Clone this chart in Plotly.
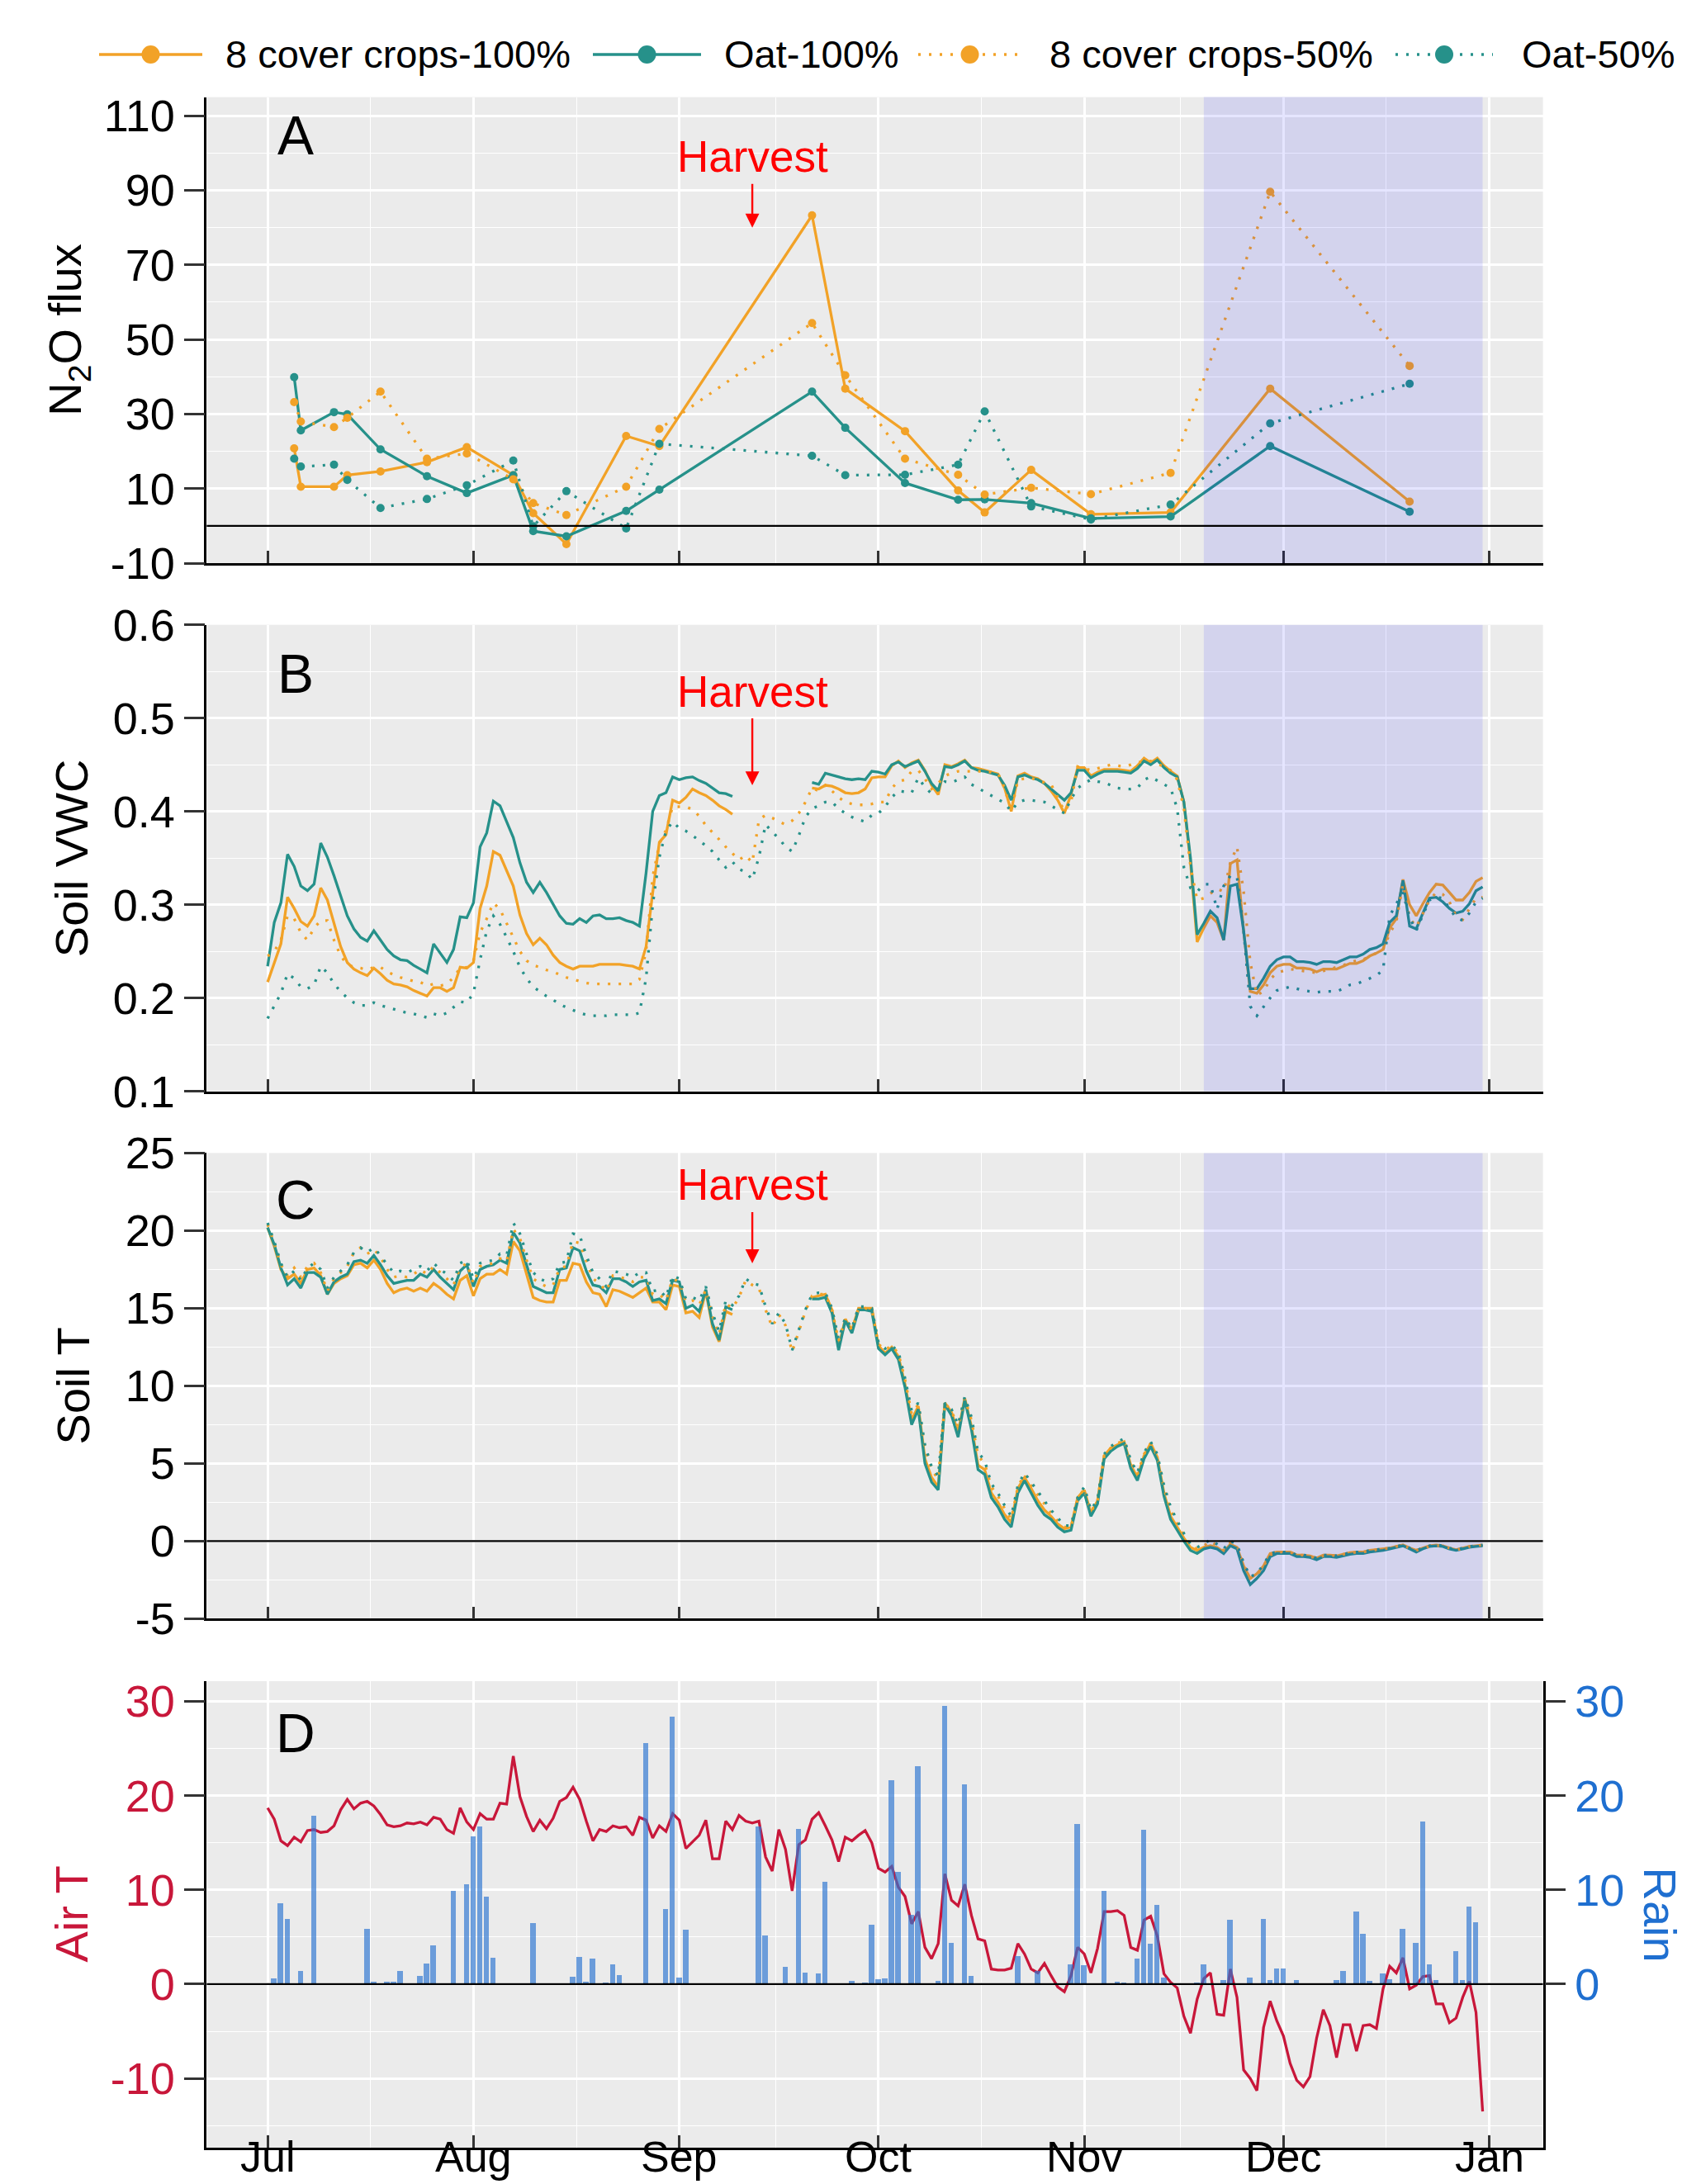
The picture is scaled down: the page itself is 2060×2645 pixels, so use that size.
import pandas as pd
import plotly.graph_objects as go

# ---------------- data ----------------
season_start = "2019-07-01"
season_end = "2019-12-31"
days = pd.date_range(season_start, season_end, freq="D")

# Panel A: N2O flux sampling dates and values
flux_dates = ["2019-07-05", "2019-07-06", "2019-07-11", "2019-07-13", "2019-07-18", "2019-07-25",
              "2019-07-31", "2019-08-07", "2019-08-10", "2019-08-15", "2019-08-24", "2019-08-29",
              "2019-09-21", "2019-09-26", "2019-10-05", "2019-10-13", "2019-10-17", "2019-10-24",
              "2019-11-02", "2019-11-14", "2019-11-29", "2019-12-20"]
flux_cc100 = [20.8, 10.5, 10.5, 13.6, 14.6, 17.1, 21.1, 13.6, 3.4, -4.9, 24.1, 21.4,
              83.3, 36.8, 25.4, 9.5, 3.6, 15.0, 3.1, 3.6, 36.8, 6.5]
flux_oat100 = [39.9, 25.6, 30.5, 29.9, 20.5, 13.3, 8.8, 13.6, -1.4, -2.8, 4.0, 9.7,
               36.0, 26.3, 11.5, 7.0, 7.1, 6.1, 2.0, 2.5, 21.4, 3.8]
flux_cc50 = [33.2, 28.0, 26.5, 29.0, 36.0, 18.0, 19.4, 12.5, 6.1, 2.9, 10.5, 26.0,
             54.4, 40.4, 18.0, 13.7, 8.4, 10.2, 8.5, 14.2, 89.6, 42.9]
flux_oat50 = [18.0, 15.9, 16.4, 12.3, 4.8, 7.2, 10.9, 17.5, -0.1, 9.3, -0.7, 22.0,
              18.8, 13.6, 13.7, 16.4, 30.7, 5.2, 1.7, 5.7, 27.5, 38.1]

N = None
# Panel B: soil volumetric water content (daily, Jul 1 - Dec 31)
vwc_cc100 = [
    0.217, 0.238, 0.258, 0.308, 0.296, 0.282, 0.277, 0.288, 0.318, 0.305,
    0.279, 0.255, 0.238, 0.231, 0.227, 0.224, 0.232, 0.226, 0.219, 0.215,
    0.214, 0.212, 0.208, 0.205, 0.202, 0.211, 0.211, 0.207, 0.211, 0.233,
    0.232, 0.238, 0.296, 0.320, 0.357, 0.353, 0.337, 0.320, 0.289, 0.269,
    0.257, 0.264, 0.257, 0.246, 0.238, 0.234, 0.231, 0.234, 0.234, 0.234,
    0.236, 0.236, 0.236, 0.236, 0.235, 0.234, 0.231, 0.255, 0.313, 0.367,
    0.375, 0.412, 0.409, 0.415, 0.424, 0.420, 0.417, 0.412, 0.406, 0.402,
    0.397, N, N, N, N, N, N, N, N, N,
    N, N, 0.425, 0.424, 0.428, 0.427, 0.424, 0.420, 0.419, 0.420,
    0.424, 0.436, 0.437, 0.437, 0.449, 0.454, 0.447, 0.452, 0.455, 0.444,
    0.428, 0.418, 0.450, 0.448, 0.451, 0.455, 0.447, 0.446, 0.444, 0.442,
    0.440, 0.425, 0.400, 0.438, 0.441, 0.437, 0.435, 0.430, 0.422, 0.412,
    0.398, 0.418, 0.447, 0.447, 0.438, 0.442, 0.445, 0.445, 0.445, 0.444,
    0.443, 0.449, 0.457, 0.452, 0.457, 0.449, 0.443, 0.438, 0.410, 0.345,
    0.260, 0.275, 0.288, 0.281, 0.262, 0.344, 0.348, 0.272, 0.207, 0.205,
    0.214, 0.227, 0.234, 0.236, 0.236, 0.232, 0.232, 0.231, 0.228, 0.231,
    0.231, 0.231, 0.234, 0.237, 0.237, 0.240, 0.245, 0.248, 0.252, 0.275,
    0.285, 0.327, 0.300, 0.288, 0.301, 0.313, 0.322, 0.321, 0.313, 0.305,
    0.305, 0.313, 0.325, 0.329]
vwc_oat100 = [
    0.234, 0.281, 0.302, 0.354, 0.341, 0.320, 0.315, 0.322, 0.366, 0.351,
    0.331, 0.310, 0.288, 0.274, 0.265, 0.261, 0.272, 0.262, 0.252, 0.245,
    0.241, 0.240, 0.235, 0.231, 0.227, 0.258, 0.248, 0.238, 0.252, 0.287,
    0.286, 0.302, 0.362, 0.377, 0.411, 0.406, 0.389, 0.372, 0.345, 0.324,
    0.313, 0.324, 0.313, 0.300, 0.288, 0.280, 0.279, 0.285, 0.281, 0.288,
    0.289, 0.285, 0.285, 0.286, 0.283, 0.281, 0.277, 0.334, 0.400, 0.417,
    0.420, 0.437, 0.434, 0.436, 0.437, 0.433, 0.430, 0.425, 0.420, 0.419,
    0.416, N, N, N, N, N, N, N, N, N,
    N, N, 0.431, 0.429, 0.441, 0.439, 0.437, 0.435, 0.434, 0.435,
    0.434, 0.443, 0.442, 0.440, 0.450, 0.453, 0.448, 0.451, 0.454, 0.443,
    0.430, 0.422, 0.448, 0.447, 0.450, 0.454, 0.447, 0.444, 0.443, 0.441,
    0.439, 0.428, 0.412, 0.437, 0.439, 0.436, 0.434, 0.430, 0.424, 0.418,
    0.412, 0.420, 0.444, 0.444, 0.436, 0.440, 0.443, 0.443, 0.443, 0.442,
    0.441, 0.446, 0.454, 0.450, 0.455, 0.447, 0.441, 0.437, 0.410, 0.350,
    0.268, 0.280, 0.293, 0.286, 0.262, 0.320, 0.322, 0.272, 0.210, 0.210,
    0.221, 0.234, 0.241, 0.244, 0.244, 0.239, 0.239, 0.238, 0.236, 0.239,
    0.239, 0.238, 0.241, 0.244, 0.244, 0.247, 0.252, 0.254, 0.258, 0.281,
    0.288, 0.326, 0.277, 0.274, 0.291, 0.307, 0.308, 0.303, 0.296, 0.291,
    0.293, 0.301, 0.315, 0.319]
vwc_cc50 = [
    0.245, 0.250, 0.262, 0.288, 0.285, 0.270, 0.262, 0.275, 0.283, 0.283,
    0.262, 0.245, 0.236, 0.233, 0.232, 0.230, 0.233, 0.233, 0.228, 0.225,
    0.222, 0.220, 0.218, 0.217, 0.213, 0.215, 0.213, 0.215, 0.222, 0.232,
    0.233, 0.240, 0.270, 0.285, 0.302, 0.295, 0.280, 0.265, 0.250, 0.240,
    0.235, 0.233, 0.230, 0.228, 0.225, 0.222, 0.220, 0.218, 0.216, 0.215,
    0.215, 0.215, 0.215, 0.215, 0.215, 0.215, 0.220, 0.250, 0.330, 0.365,
    0.380, 0.405, 0.405, 0.405, 0.402, 0.395, 0.385, 0.378, 0.370, 0.362,
    0.355, 0.348, 0.353, 0.345, 0.391, 0.396, 0.393, 0.389, 0.386, 0.390,
    0.398, 0.410, 0.425, 0.422, 0.428, 0.422, 0.415, 0.410, 0.408, 0.407,
    0.407, 0.408, 0.410, 0.410, 0.425, 0.432, 0.434, 0.443, 0.444, 0.435,
    0.424, 0.430, 0.438, 0.441, 0.443, 0.443, 0.443, 0.443, 0.443, 0.442,
    0.441, 0.425, 0.400, 0.434, 0.435, 0.436, 0.433, 0.431, 0.429, 0.415,
    0.400, 0.410, 0.448, 0.446, 0.444, 0.446, 0.448, 0.450, 0.449, 0.448,
    0.450, 0.453, 0.453, 0.454, 0.451, 0.448, 0.444, 0.434, 0.403, 0.341,
    0.305, 0.307, 0.312, 0.317, 0.314, 0.345, 0.362, 0.314, 0.238, 0.203,
    0.207, 0.220, 0.227, 0.229, 0.231, 0.230, 0.229, 0.228, 0.227, 0.229,
    0.231, 0.233, 0.235, 0.238, 0.240, 0.241, 0.245, 0.248, 0.252, 0.269,
    0.282, 0.322, 0.286, 0.276, 0.291, 0.305, 0.313, 0.311, 0.303, 0.288,
    0.284, 0.296, 0.307, 0.308]
vwc_oat50 = [
    0.178, 0.191, 0.205, 0.226, 0.221, 0.212, 0.210, 0.214, 0.234, 0.227,
    0.215, 0.207, 0.200, 0.195, 0.192, 0.192, 0.195, 0.192, 0.190, 0.188,
    0.186, 0.184, 0.183, 0.181, 0.179, 0.183, 0.181, 0.184, 0.190, 0.196,
    0.195, 0.205, 0.241, 0.272, 0.288, 0.279, 0.265, 0.250, 0.233, 0.221,
    0.212, 0.207, 0.202, 0.198, 0.193, 0.190, 0.187, 0.184, 0.182, 0.181,
    0.181, 0.181, 0.182, 0.182, 0.182, 0.182, 0.184, 0.221, 0.300, 0.351,
    0.379, 0.389, 0.382, 0.379, 0.374, 0.369, 0.363, 0.357, 0.348, 0.340,
    0.346, 0.338, 0.335, 0.327, 0.351, 0.386, 0.378, 0.371, 0.362, 0.357,
    0.374, 0.394, 0.403, 0.406, 0.410, 0.410, 0.403, 0.398, 0.394, 0.391,
    0.389, 0.396, 0.398, 0.405, 0.415, 0.422, 0.421, 0.420, 0.436, 0.426,
    0.419, 0.425, 0.432, 0.431, 0.434, 0.437, 0.429, 0.425, 0.421, 0.417,
    0.413, 0.409, 0.400, 0.410, 0.412, 0.412, 0.411, 0.410, 0.406, 0.402,
    0.398, 0.413, 0.425, 0.430, 0.434, 0.432, 0.431, 0.428, 0.425, 0.424,
    0.424, 0.425, 0.434, 0.437, 0.433, 0.429, 0.425, 0.403, 0.340, 0.318,
    0.314, 0.322, 0.322, 0.295, 0.320, 0.331, 0.330, 0.272, 0.191, 0.181,
    0.191, 0.200, 0.208, 0.210, 0.212, 0.210, 0.208, 0.207, 0.206, 0.207,
    0.207, 0.207, 0.210, 0.214, 0.215, 0.218, 0.221, 0.224, 0.230, 0.288,
    0.301, 0.313, 0.286, 0.272, 0.289, 0.305, 0.308, 0.307, 0.296, 0.286,
    0.283, 0.291, 0.303, 0.307]

# Panel C: soil temperature (daily)
st_cc100 = [
    20.2, 19.0, 17.5, 16.9, 17.2, 16.6, 17.5, 17.6, 17.1, 15.9,
    16.6, 16.9, 17.1, 17.8, 17.9, 17.6, 18.1, 17.5, 16.6, 16.0,
    16.2, 16.3, 16.1, 16.3, 16.1, 16.6, 16.3, 15.9, 15.6, 16.8,
    17.1, 15.8, 16.9, 17.2, 17.2, 17.5, 17.2, 19.3, 18.7, 17.2,
    15.7, 15.5, 15.4, 15.4, 16.8, 16.8, 17.9, 17.8, 16.7, 16.0,
    15.9, 15.1, 16.2, 16.1, 15.9, 15.7, 16.0, 16.3, 15.4, 15.4,
    14.9, 16.5, 16.4, 14.7, 14.8, 14.4, 16.1, 13.8, 12.85, 14.8,
    14.6, N, N, N, N, N, N, N, N, N,
    N, N, 15.7, 15.8, 15.9, 14.9, 12.5, 14.3, 13.6, 15.0,
    15.0, 15.0, 12.6, 12.1, 12.5, 11.9, 10.1, 7.8, 8.7, 5.3,
    4.1, 3.5, 8.9, 8.3, 7.0, 9.2, 7.4, 4.9, 4.6, 3.1,
    2.5, 1.7, 1.2, 3.4, 4.1, 3.4, 2.6, 2.0, 1.6, 1.1,
    0.8, 0.9, 2.8, 3.3, 1.8, 2.6, 5.5, 6.0, 6.2, 6.4,
    4.9, 4.1, 5.5, 6.3, 5.4, 3.1, 1.6, 0.9, 0.2, -0.4,
    -0.6, -0.4, -0.3, -0.4, -0.7, -0.2, -0.4, -1.6, -2.4, -2.1,
    -1.6, -0.8, -0.7, -0.7, -0.7, -0.9, -0.9, -0.95, -1.1, -0.9,
    -0.9, -0.95, -0.85, -0.75, -0.7, -0.7, -0.6, -0.55, -0.5, -0.45,
    -0.35, -0.25, -0.45, -0.6, -0.45, -0.3, -0.25, -0.3, -0.45, -0.55,
    -0.45, -0.35, -0.3, -0.25]
st_oat100 = [
    20.2, 19.1, 17.6, 16.5, 16.9, 16.3, 17.3, 17.3, 17.0, 15.9,
    16.7, 17.0, 17.2, 18.0, 18.1, 17.9, 18.4, 17.8, 17.1, 16.6,
    16.7, 16.8, 16.8, 17.2, 17.0, 17.5, 17.0, 16.6, 16.2, 17.4,
    17.8, 16.4, 17.5, 17.7, 17.8, 18.1, 17.9, 19.9, 19.2, 17.8,
    16.4, 16.2, 16.0, 16.0, 17.5, 17.6, 18.9, 18.7, 17.4, 16.5,
    16.4, 16.0, 16.9, 16.9, 16.7, 16.4, 16.7, 16.8, 15.5, 15.6,
    15.3, 16.8, 16.7, 15.0, 15.2, 14.8, 16.2, 14.0, 12.95, 15.1,
    14.9, N, N, N, N, N, N, N, N, N,
    N, N, 15.6, 15.6, 15.7, 14.7, 12.3, 14.2, 13.4, 14.9,
    14.9, 14.8, 12.4, 12.0, 12.4, 11.7, 9.9, 7.5, 8.5, 5.0,
    3.8, 3.3, 8.8, 8.1, 6.7, 9.1, 7.2, 4.6, 4.3, 2.8,
    2.2, 1.4, 0.9, 3.1, 3.9, 3.1, 2.3, 1.7, 1.4, 0.9,
    0.6, 0.7, 2.6, 3.1, 1.6, 2.4, 5.3, 5.8, 6.1, 6.3,
    4.7, 3.9, 5.3, 6.1, 5.2, 2.9, 1.4, 0.7, 0.0, -0.6,
    -0.8, -0.5, -0.4, -0.5, -0.8, -0.3, -0.5, -1.9, -2.8, -2.4,
    -1.9, -1.0, -0.8, -0.8, -0.8, -1.0, -1.0, -1.05, -1.2, -1.0,
    -1.0, -1.05, -0.95, -0.85, -0.8, -0.8, -0.7, -0.65, -0.6, -0.5,
    -0.4, -0.3, -0.5, -0.7, -0.5, -0.35, -0.3, -0.35, -0.5, -0.6,
    -0.5, -0.4, -0.35, -0.3]
st_cc50 = [
    20.4, 19.2, 17.8, 17.1, 17.6, 17.0, 17.7, 17.9, 17.3, 16.1,
    16.9, 17.3, 17.7, 18.6, 18.9, 18.5, 18.8, 18.3, 17.5, 17.0,
    17.1, 17.0, 17.2, 17.5, 17.2, 17.7, 17.3, 16.9, 16.5, 17.6,
    17.9, 16.6, 17.7, 17.8, 17.9, 18.2, 18.0, 20.1, 19.5, 18.1,
    16.9, 16.6, 16.4, 16.5, 17.6, 17.7, 19.3, 19.2, 18.0, 16.9,
    16.6, 16.1, 17.1, 17.0, 16.9, 16.7, 17.0, 17.0, 15.9, 15.9,
    15.5, 16.9, 16.7, 15.4, 15.5, 15.2, 16.2, 14.5, 13.3, 15.3,
    15.0, 15.7, 16.8, 16.5, 16.3, 14.9, 13.8, 14.6, 13.9, 12.2,
    13.5, 14.8, 15.8, 15.9, 15.9, 14.9, 12.9, 14.3, 13.6, 15.0,
    15.0, 14.9, 12.7, 12.3, 12.6, 12.1, 10.4, 8.2, 8.8, 6.0,
    4.6, 4.0, 8.9, 8.4, 7.3, 9.2, 7.8, 5.5, 5.0, 3.5,
    2.9, 2.1, 1.4, 3.5, 4.3, 3.6, 3.0, 2.4, 1.8, 1.3,
    0.9, 0.9, 2.7, 3.4, 1.9, 2.6, 5.5, 6.0, 6.3, 6.5,
    5.1, 4.3, 5.6, 6.3, 5.5, 3.4, 2.0, 1.1, 0.4, -0.3,
    -0.5, -0.3, 0.0, -0.3, -0.6, -0.1, -0.3, -1.5, -2.4, -2.2,
    -1.6, -0.9, -0.7, -0.7, -0.7, -0.9, -0.9, -1.0, -1.1, -0.95,
    -0.9, -0.95, -0.85, -0.8, -0.7, -0.7, -0.65, -0.55, -0.5, -0.45,
    -0.35, -0.3, -0.45, -0.6, -0.45, -0.35, -0.3, -0.3, -0.45, -0.55,
    -0.5, -0.35, -0.3, -0.25]
st_oat50 = [
    20.5, 19.3, 17.9, 17.0, 17.4, 16.8, 17.6, 17.9, 17.5, 16.3,
    17.0, 17.4, 17.8, 18.6, 18.9, 18.6, 18.9, 18.4, 17.8, 17.3,
    17.4, 17.3, 17.5, 17.7, 17.4, 17.9, 17.5, 17.2, 16.8, 17.9,
    18.1, 16.9, 17.9, 18.0, 18.1, 18.5, 18.4, 20.5, 19.8, 18.5,
    17.3, 16.9, 16.7, 16.9, 17.9, 18.0, 19.8, 19.7, 18.4, 17.3,
    16.9, 16.4, 17.4, 17.3, 17.2, 17.0, 17.3, 17.3, 16.1, 16.2,
    15.7, 17.1, 16.9, 15.6, 15.7, 15.5, 16.4, 14.7, 13.5, 15.5,
    15.2, 15.8, 16.9, 16.6, 16.5, 15.1, 14.0, 14.7, 14.0, 12.3,
    13.6, 14.9, 15.9, 16.0, 16.0, 15.0, 13.0, 14.4, 13.7, 15.1,
    15.1, 15.0, 12.8, 12.4, 12.6, 12.2, 10.5, 8.4, 8.9, 6.2,
    4.8, 4.2, 8.9, 8.5, 7.5, 9.3, 8.0, 5.7, 5.2, 3.7,
    3.1, 2.3, 1.6, 3.6, 4.4, 3.8, 3.2, 2.6, 2.0, 1.5,
    1.0, 1.0, 2.8, 3.5, 2.0, 2.7, 5.6, 6.1, 6.4, 6.6,
    5.2, 4.4, 5.7, 6.4, 5.6, 3.6, 2.2, 1.3, 0.5, -0.2,
    -0.4, -0.2, 0.1, -0.2, -0.5, 0.0, -0.2, -1.4, -2.3, -2.1,
    -1.5, -0.8, -0.7, -0.7, -0.7, -0.9, -0.9, -0.95, -1.1, -0.9,
    -0.9, -0.95, -0.85, -0.75, -0.7, -0.7, -0.6, -0.55, -0.5, -0.45,
    -0.35, -0.25, -0.45, -0.6, -0.45, -0.3, -0.25, -0.3, -0.45, -0.55,
    -0.45, -0.35, -0.3, -0.25]

# Panel D: daily air temperature and rain
air_t = [
    18.7, 17.5, 15.2, 14.7, 15.6, 15.1, 16.3, 16.4, 16.1, 16.2,
    16.8, 18.5, 19.6, 18.6, 19.2, 19.4, 18.9, 18.0, 16.9, 16.7,
    16.8, 17.1, 17.0, 17.2, 16.9, 17.7, 17.5, 16.4, 16.0, 18.7,
    17.2, 16.4, 18.1, 17.5, 17.5, 19.2, 19.1, 24.2, 19.9, 17.8,
    16.2, 17.4, 16.5, 17.6, 19.4, 19.8, 20.9, 19.6, 17.3, 15.2,
    16.4, 16.2, 16.8, 16.6, 16.7, 15.8, 17.7, 17.4, 15.5, 16.8,
    16.2, 18.1, 17.4, 14.4, 15.1, 15.8, 17.4, 13.3, 13.3, 17.3,
    16.4, 17.9, 17.3, 17.1, 17.3, 13.5, 12.0, 16.4, 14.3, 9.9,
    14.8, 15.3, 17.5, 18.2, 16.8, 15.3, 13.0, 15.6, 15.2, 15.8,
    16.3, 15.0, 12.3, 11.9, 12.5, 10.3, 9.3, 6.4, 7.7, 3.9,
    2.7, 4.3, 11.7, 8.9, 8.3, 10.6, 7.3, 4.8, 4.6, 1.6,
    1.5, 1.5, 1.7, 4.3, 3.2, 1.6, 1.2, 2.2, 0.9, -0.3,
    -0.8, 0.9, 3.9, 3.2, 1.2, 3.8, 7.7, 7.7, 7.8, 7.3,
    3.9, 3.6, 6.8, 7.2, 5.1, 1.1, 0.2, -0.4, -3.4, -5.2,
    -1.6, 0.6, 1.2, -3.2, -3.3, 1.6, -1.4, -9.1, -10.0, -11.3,
    -4.6, -1.8, -3.9, -5.5, -8.4, -10.2, -10.9, -9.8, -5.7, -2.7,
    -4.4, -7.8, -4.3, -4.3, -7.1, -4.4, -4.3, -4.7, -0.5, 1.9,
    1.2, 2.8, -0.5, -0.1, 0.8, 0.9, -2.1, -2.1, -4.1, -3.6,
    -1.4, 0.3, -3.0, -13.5]

rain_day_index = [1, 2, 3, 5, 7, 15, 16, 17, 18, 19, 20, 23, 24, 25, 28, 30, 31, 32, 33, 34,
                  40, 46, 47, 48, 49, 51, 52, 53, 57, 60, 61, 62, 63, 74, 75, 78, 80, 81, 83, 84,
                  88, 90, 91, 92, 93, 94, 95, 97, 98, 101, 102, 103, 105, 106, 113, 116, 121, 122,
                  123, 126, 128, 129, 131, 132, 133, 134, 135, 140, 141, 144, 145, 148, 150, 151,
                  152, 153, 155, 161, 162, 164, 165, 166, 168, 169, 171, 173, 174, 175, 176, 179,
                  180, 181, 182]
rain_mm = [0.6, 8.6, 6.9, 1.4, 17.9, 5.9, 0.3, 0.1, 0.25, 0.25, 1.4, 0.9, 2.2, 4.1, 9.9, 10.6, 15.7, 16.7, 9.3, 2.8,
           6.5, 0.8, 2.9, 0.25, 2.7, 0.2, 2.1, 1.0, 25.6, 8.0, 28.4, 0.7, 5.8, 16.7, 5.2, 1.85, 16.5, 1.25, 1.1, 10.9,
           0.35, 0.2, 6.3, 0.5, 0.6, 21.6, 11.9, 7.4, 23.1, 0.35, 29.5, 4.4, 21.2, 0.9, 3.0, 1.4, 2.1, 17.0,
           2.0, 9.9, 0.3, 0.2, 2.7, 16.4, 4.3, 8.4, 0.7, 0.2, 2.1, 0.4, 6.8, 0.7, 6.9, 0.4,
           1.7, 1.7, 0.4, 0.4, 1.4, 7.7, 5.3, 0.35, 1.1, 0.5, 5.9, 4.4, 17.3, 2.1, 0.4, 3.5,
           0.4, 8.2, 6.6]

month_ticks = ["2019-07-01", "2019-08-01", "2019-09-01", "2019-10-01", "2019-11-01", "2019-12-01", "2020-01-01"]
month_labels = ["Jul", "Aug", "Sep", "Oct", "Nov", "Dec", "Jan"]
mid_month = ["2019-07-16 12:00", "2019-08-16 12:00", "2019-09-15 12:00", "2019-10-16 12:00",
             "2019-11-15 12:00", "2019-12-16 12:00"]
# y tick values / labels per panel (hyphen-minus as in the original)
yticks_A = [-10, 10, 30, 50, 70, 90, 110]
yticks_B = [0.1, 0.2, 0.3, 0.4, 0.5, 0.6]
yticks_C = [-5, 0, 5, 10, 15, 20, 25]
yticks_D = [-10, 0, 10, 20, 30]
yticks_rain = [0, 10, 20, 30]
yminor_A = [0, 20, 40, 60, 80, 100]
yminor_B = [0.15, 0.25, 0.35, 0.45, 0.55]
yminor_C = [-2.5, 2.5, 7.5, 12.5, 17.5, 22.5]
yminor_D = [-15, -5, 5, 15, 25]
harvest_date = "2019-09-12"
winter_start, winter_end = "2019-11-19", "2019-12-31"

for s in [vwc_cc100, vwc_oat100, vwc_cc50, vwc_oat50, st_cc100, st_oat100, st_cc50, st_oat50, air_t]:
    assert len(s) == len(days), len(s)
assert len(rain_day_index) == len(rain_mm)
rain_dates = [days[i] for i in rain_day_index]


def fmt(v):
    return f"{v:g}"


# ---------------- styling ----------------
W, H = 2060, 2645
FONT = "Liberation Sans, Arial, Helvetica, sans-serif"
ORANGE = "#F2A227"
TEAL = "#26918A"
RED_T = "#C8173A"
BLUE_T = "#1F6FD0"
BAR = "rgba(45,118,210,0.68)"
DOT = "3px,10px"

X0_PX, X1_PX = 242.4, 1860.6
panels_px = [(109.6, 674.0), (748.7, 1313.6), (1388.4, 1952.4), (2028.0, 2593.0)]
x_dom = [X0_PX / W, X1_PX / W]
y_doms = [[1 - b / H, 1 - t / H] for t, b in panels_px]
x_range = ["2019-06-21 20:00", "2020-01-09 02:00"]
y_ranges = [[-10, 115], [0.1, 0.6], [-5, 25], [-17.35, 32.15]]
ytick_sets = [yticks_A, yticks_B, yticks_C, yticks_D]
yminor_sets = [yminor_A, yminor_B, yminor_C, yminor_D]

fig = go.Figure()

series_style = [
    ("8 cover crops-100%", ORANGE, "solid"),
    ("Oat-100%", TEAL, "solid"),
    ("8 cover crops-50%", ORANGE, DOT),
    ("Oat-50%", TEAL, DOT),
]

# Panel A
for (name, col, dash), vals in zip(series_style, [flux_cc100, flux_oat100, flux_cc50, flux_oat50]):
    fig.add_trace(go.Scatter(x=flux_dates, y=vals, mode="lines+markers", name=name,
                             line=dict(color=col, width=3.3, dash=dash),
                             marker=dict(color=col, size=10), showlegend=False,
                             xaxis="x", yaxis="y"))
# Panel B
for (name, col, dash), vals in zip(series_style, [vwc_cc100, vwc_oat100, vwc_cc50, vwc_oat50]):
    fig.add_trace(go.Scatter(x=days, y=vals, mode="lines", name=name,
                             line=dict(color=col, width=3.3, dash=dash), showlegend=False,
                             connectgaps=False, xaxis="x2", yaxis="y2"))
# Panel C
for (name, col, dash), vals in zip(series_style, [st_cc100, st_oat100, st_cc50, st_oat50]):
    fig.add_trace(go.Scatter(x=days, y=vals, mode="lines", name=name,
                             line=dict(color=col, width=3.3, dash=dash), showlegend=False,
                             connectgaps=False, xaxis="x3", yaxis="y3"))
# Panel D
fig.add_trace(go.Scatter(x=days, y=air_t, mode="lines", name="Air T",
                         line=dict(color=RED_T, width=3.3), showlegend=False,
                         xaxis="x4", yaxis="y4"))
fig.add_trace(go.Bar(x=rain_dates, y=rain_mm, name="Rain", marker=dict(color=BAR, line=dict(width=0)),
                     width=0.82 * 86400000, showlegend=False, xaxis="x4", yaxis="y5"))

axis_common = dict(showline=True, linecolor="black", linewidth=2.5, mirror=False,
                   showgrid=True, gridcolor="white", gridwidth=2.6, zeroline=False,
                   tickcolor="#333333", tickwidth=2.5, automargin=False,
                   tickfont=dict(family=FONT, size=54, color="black"))

layout = dict(width=W, height=H, margin=dict(l=0, r=0, t=0, b=0), paper_bgcolor="white",
              plot_bgcolor="#EBEBEB", font=dict(family=FONT, color="black"), bargap=0,
              barmode="overlay")
for i in range(4):
    xn = "xaxis" if i == 0 else f"xaxis{i+1}"
    yn = "yaxis" if i == 0 else f"yaxis{i+1}"
    xa = dict(axis_common)
    xa.update(domain=x_dom, anchor="y" if i == 0 else f"y{i+1}", type="date", range=x_range,
              tickmode="array", tickvals=month_ticks, ticktext=month_labels,
              ticks="inside", ticklen=15, showticklabels=False,
              minor=dict(tickmode="array", tickvals=mid_month, showgrid=True, gridcolor="white",
                         gridwidth=1.3, ticks=""))
    ya = dict(axis_common)
    ya.update(domain=y_doms[i], anchor="x" if i == 0 else f"x{i+1}", range=y_ranges[i],
              tickmode="array", tickvals=ytick_sets[i], ticktext=[fmt(v) for v in ytick_sets[i]],
              ticks="outside", ticklen=25,
              minor=dict(tickmode="array", tickvals=yminor_sets[i], showgrid=True, gridcolor="white",
                         gridwidth=1.3, ticks=""))
    if i == 3:
        ya["tickfont"] = dict(family=FONT, size=54, color=RED_T)
    layout[xn] = xa
    layout[yn] = ya

layout["yaxis5"] = dict(overlaying="y4", anchor="x4", side="right", range=y_ranges[3],
                        tickmode="array", tickvals=yticks_rain, ticktext=[fmt(v) for v in yticks_rain],
                        showgrid=False, zeroline=False,
                        showline=True, linecolor="black", linewidth=2.5, ticks="outside", ticklen=25,
                        tickcolor="#333333", tickwidth=2.5, automargin=False,
                        tickfont=dict(family=FONT, size=54, color=BLUE_T))
fig.update_layout(**layout)

shapes = []
annotations = []
# winter shading (panels A-C), drawn over the lines as in the original
for i in range(3):
    xr = "x" if i == 0 else f"x{i+1}"
    yr = "y" if i == 0 else f"y{i+1}"
    shapes.append(dict(type="rect", xref=xr, yref=f"{yr} domain", x0=winter_start, x1=winter_end,
                       y0=0, y1=1, fillcolor="rgba(0,0,255,0.1)", line=dict(width=0), layer="above"))
# zero lines in A, C, D
for xr, yr in [("x", "y"), ("x3", "y3"), ("x4", "y4")]:
    shapes.append(dict(type="line", xref=f"{xr} domain", yref=yr, x0=0, x1=1, y0=0, y1=0,
                       line=dict(color="black", width=2.2), layer="above"))

# Harvest labels with arrows (text sits at the arrow tail)
harvest_pos = [("x", "y", 80.0, -86), ("x2", "y2", 0.428, -114), ("x3", "y3", 17.9, -95)]
for xr, yr, ytip, ay in harvest_pos:
    annotations.append(dict(xref=xr, yref=yr, x=harvest_date, y=ytip, text="Harvest", showarrow=True,
                            ax=0, ay=ay, arrowcolor="#FF0000", arrowwidth=2.4, arrowhead=2,
                            arrowsize=1.4, standoff=0, startstandoff=2,
                            font=dict(family=FONT, size=53, color="#FF0000")))

# panel letters
for letter, ypx in zip("ABCD", [156, 808, 1445, 2090.6]):
    annotations.append(dict(xref="paper", yref="paper", x=350 / W, y=1 - ypx / H, text=letter,
                            showarrow=False, font=dict(family=FONT, size=66, color="black"),
                            xanchor="center", yanchor="middle"))

# x tick labels of the bottom panel
for tv, tl in zip(month_ticks, month_labels):
    annotations.append(dict(xref="x4", yref="paper", x=tv, y=1 - 2604 / H, text=tl, showarrow=False,
                            font=dict(family=FONT, size=52, color="black"), xanchor="center",
                            yanchor="middle"))

# axis titles
titles = [("N<sub>2</sub>O flux", 75, 391.8, "black", -90),
          ("Soil VWC", 78, 1031.2, "black", -90),
          ("Soil T", 80, 1670.4, "black", -90),
          ("Air T", 78, 2310.5, RED_T, -90),
          ("Rain", 2002, 2310.5, BLUE_T, 90)]
for txt, xpx, ypx, col, ang in titles:
    annotations.append(dict(xref="paper", yref="paper", x=xpx / W, y=1 - ypx / H, text=txt,
                            showarrow=False, textangle=ang, font=dict(family=FONT, size=56, color=col),
                            xanchor="center", yanchor="middle"))

# legend (drawn manually to match the wide key symbols)
legend_items = [("8 cover crops-100%", ORANGE, "solid", 112, 237, 263),
                ("Oat-100%", TEAL, "solid", 710, 841, 867),
                ("8 cover crops-50%", ORANGE, DOT, 1104, 1229, 1261),
                ("Oat-50%", TEAL, DOT, 1682, 1800, 1833)]
LEG_Y = 58
for label, col, dash, lx0, lx1, tx in legend_items:
    yl = 1 - LEG_Y / H
    shapes.append(dict(type="line", xref="paper", yref="paper", x0=lx0 / W, x1=lx1 / W, y0=yl, y1=yl,
                       line=dict(color=col, width=3.3, dash=dash)))
    cx = (lx0 + lx1) / 2
    r = 11
    shapes.append(dict(type="circle", xref="paper", yref="paper", x0=(cx - r) / W, x1=(cx + r) / W,
                       y0=1 - (LEG_Y + r) / H, y1=1 - (LEG_Y - r) / H, fillcolor=col, line=dict(width=0)))
    annotations.append(dict(xref="paper", yref="paper", x=tx / W, y=yl, text=label, showarrow=False,
                            font=dict(family=FONT, size=47, color="black"), xanchor="left",
                            yanchor="middle"))

fig.update_layout(shapes=shapes, annotations=annotations)
fig.write_html("out.html")
